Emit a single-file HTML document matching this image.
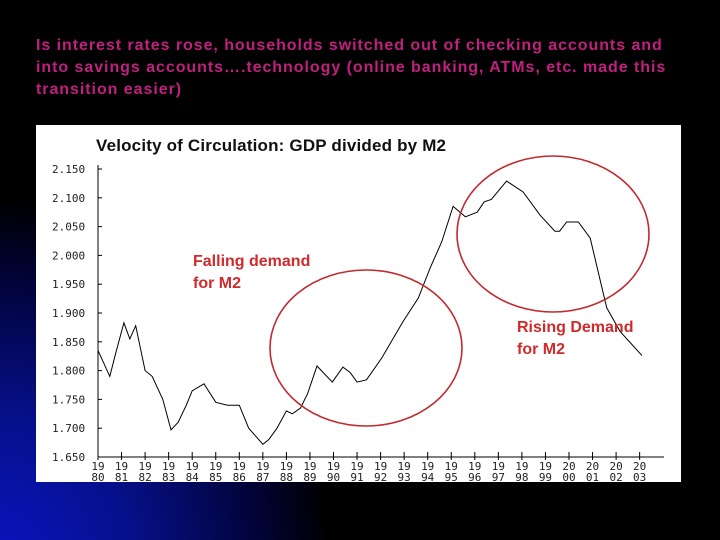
<!DOCTYPE html>
<html><head><meta charset="utf-8"><style>
html,body{margin:0;padding:0;}
body{width:720px;height:540px;overflow:hidden;position:relative;background:#000;font-family:"Liberation Sans",sans-serif;}
#bg{position:absolute;left:0;top:0;width:720px;height:540px;background:radial-gradient(ellipse 330px 360px at 0px 560px,#0a14c0 0%,#06108a 40%,#020440 75%,#000 100%);}
#intro{position:absolute;left:36px;top:35px;white-space:nowrap;color:#c0207f;font-size:16px;font-weight:bold;line-height:22px;letter-spacing:0.95px;}
svg{position:absolute;left:0;top:0;}
</style></head><body>
<div id="bg"></div>
<div id="intro">Is interest rates rose, households switched out of checking accounts and<br>into savings accounts….technology (online banking, ATMs, etc. made this<br>transition easier)</div>
<svg width="720" height="540">
<rect x="36" y="125" width="645" height="357" fill="#fff"/>
<text x="96" y="151" font-size="17" font-weight="bold" font-family="Liberation Sans,sans-serif" fill="#111" textLength="350">Velocity of Circulation: GDP divided by M2</text>
<g id="axes"></g>
<path id="line" fill="none" stroke="#000" stroke-width="1"/>
<ellipse cx="366" cy="348" rx="96" ry="78" fill="none" stroke="#c02a2e" stroke-width="1.6"/>
<ellipse cx="553" cy="234" rx="96" ry="78" fill="none" stroke="#c02a2e" stroke-width="1.6"/>
<text font-size="16" font-weight="bold" font-family="Liberation Sans,sans-serif" fill="#d02a2a"><tspan x="193" y="266">Falling demand</tspan><tspan x="193" y="288">for M2</tspan></text>
<text font-size="16" font-weight="bold" font-family="Liberation Sans,sans-serif" fill="#d02a2a"><tspan x="517" y="332">Rising Demand</tspan><tspan x="517" y="354">for M2</tspan></text>
</svg>
<script>
const years=[1980,1980.5,1980.75,1981.1,1981.35,1981.6,1982,1982.3,1982.75,1983.1,1983.4,1983.75,1984,1984.5,1985,1985.5,1986,1986.4,1987,1987.25,1987.6,1988,1988.25,1988.6,1988.9,1989.3,1989.6,1989.95,1990.4,1990.7,1991,1991.4,1992.05,1992.95,1993.6,1994.1,1994.6,1995.08,1995.6,1996.1,1996.4,1996.7,1997.35,1998.05,1998.77,1999.4,1999.6,1999.9,2000.4,2000.9,2001.6,2002.17,2003.1];
const velocity=[1.835,1.79,1.83,1.883,1.855,1.878,1.80,1.79,1.75,1.697,1.71,1.74,1.765,1.777,1.745,1.74,1.74,1.70,1.672,1.68,1.70,1.73,1.725,1.735,1.76,1.808,1.795,1.78,1.806,1.797,1.78,1.784,1.822,1.885,1.926,1.978,2.024,2.085,2.067,2.075,2.093,2.097,2.129,2.11,2.07,2.042,2.042,2.058,2.058,2.03,1.909,1.868,1.826];
const yTicks=["1.650","1.700","1.750","1.800","1.850","1.900","1.950","2.000","2.050","2.100","2.150"];
const xTicks=["1980","1981","1982","1983","1984","1985","1986","1987","1988","1989","1990","1991","1992","1993","1994","1995","1996","1997","1998","1999","2000","2001","2002","2003"];
const X=y=>98+(y-1980)*23.55;
const Y=v=>457-(v-1.65)*576;
const NS="http://www.w3.org/2000/svg";
const ax=document.getElementById('axes');
function mk(t,a){const e=document.createElementNS(NS,t);for(const k in a)e.setAttribute(k,a[k]);ax.appendChild(e);return e;}
let e=mk('line',{x1:98,y1:165,x2:98,y2:457,stroke:'#000'});


e=mk('line',{x1:98,y1:457,x2:664,y2:457,stroke:'#000'});


yTicks.forEach(t=>{const v=parseFloat(t),y=Y(v);
 let l=mk('line',{x1:98,y1:y,x2:102,y2:y,stroke:'#000'});
 
 
 let tx=mk('text',{x:52,y:y+4,'font-size':11,'font-family':'DejaVu Sans Mono,Liberation Mono,monospace',fill:'#222'});
 tx.textContent=t;
 
 
});
xTicks.forEach(t=>{const x=X(+t);
 let l=mk('line',{x1:x,y1:452,x2:x,y2:460,stroke:'#000'});
 
 
 let tx=mk('text',{x:x,y:470,'font-size':11,'text-anchor':'middle','font-family':'DejaVu Sans Mono,Liberation Mono,monospace',fill:'#222'});
 tx.textContent=t.slice(0,2);
 
 
 let t2=mk('text',{x:x,y:481,'font-size':11,'text-anchor':'middle','font-family':'DejaVu Sans Mono,Liberation Mono,monospace',fill:'#222'});
 t2.textContent=t.slice(2);
 
 
});
document.getElementById('line').setAttribute('d',years.map((y,i)=>(i?'L':'M')+X(y).toFixed(1)+' '+Y(velocity[i]).toFixed(1)).join(' '));
</script>
</body></html>
